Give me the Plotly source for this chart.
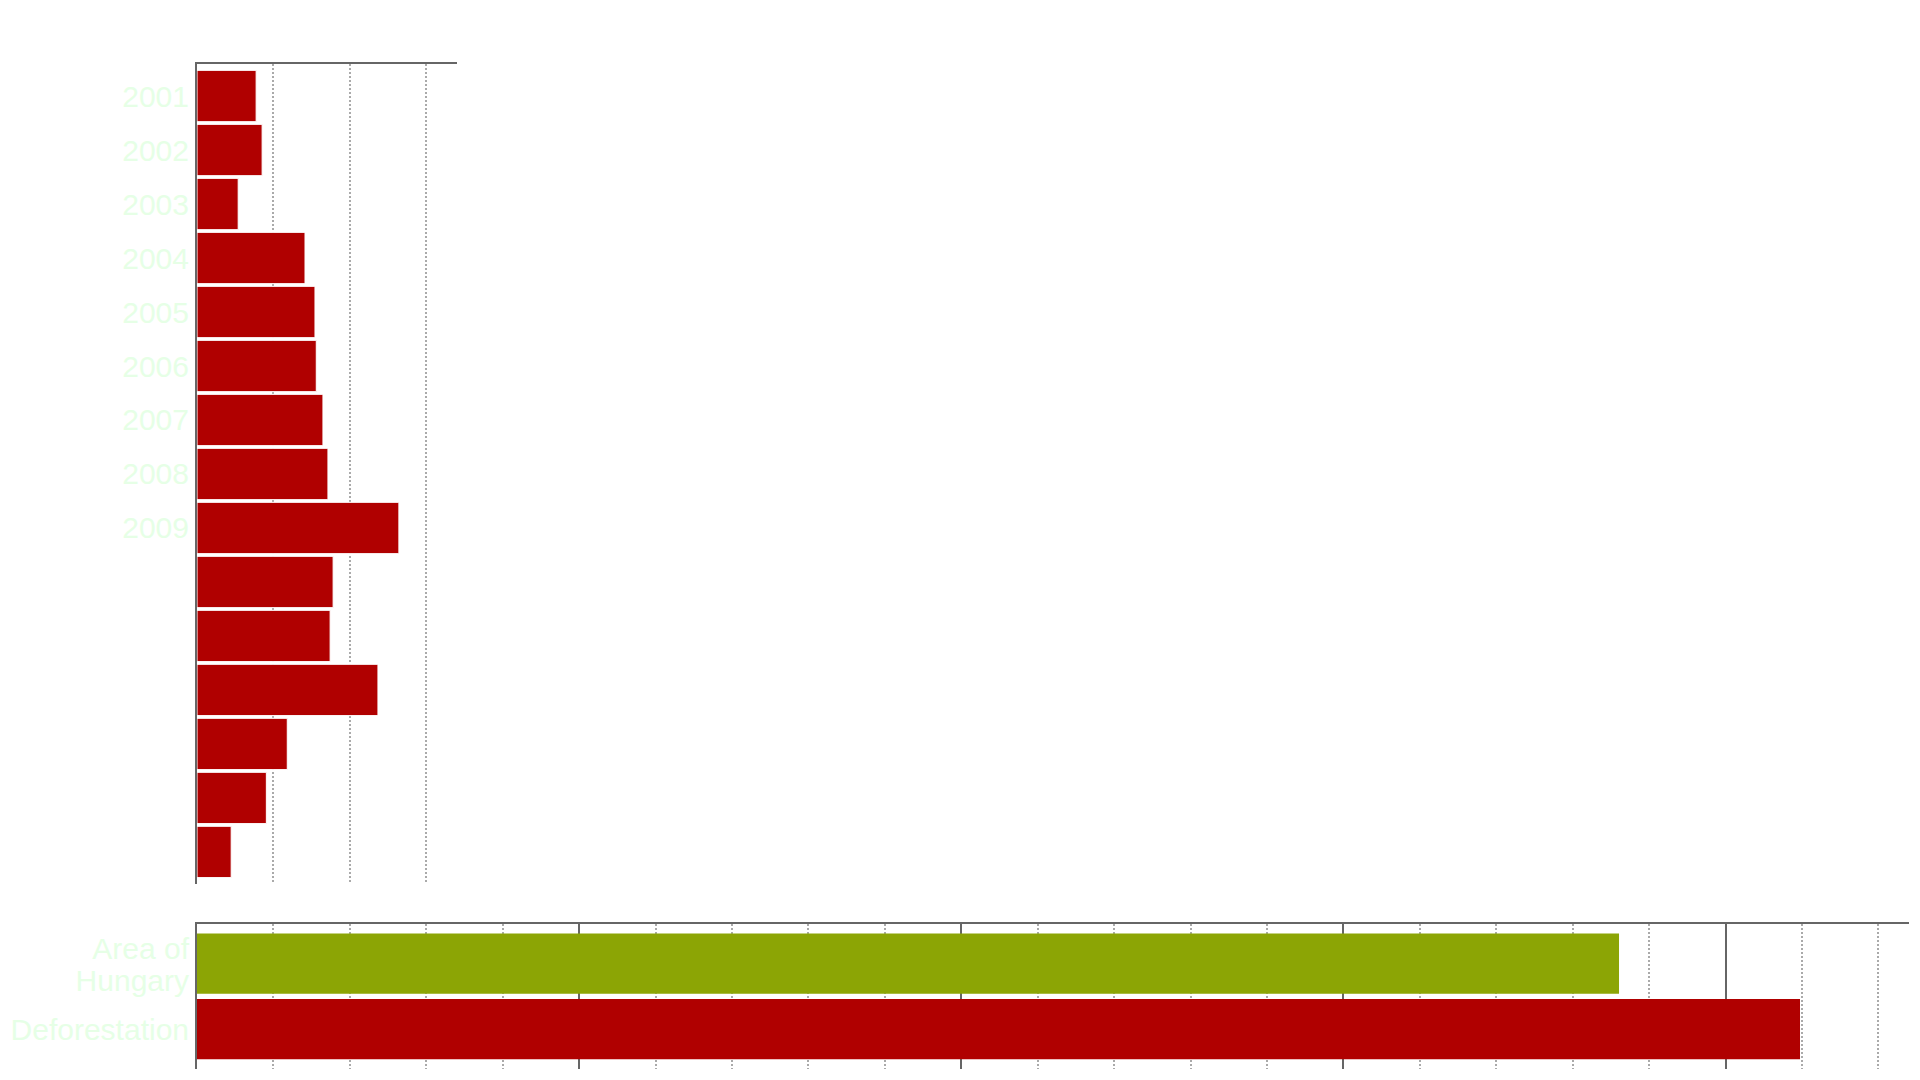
import plotly.graph_objects as go

# === データ（森林消失 km²/年） ===
years = ["2001", "2002", "2003", "2004", "2005", "2006", "2007", "2008",
         "2009", "2010", "2011", "2012", "2013", "2014", "2015"]
loss_km2 = [3869, 4260, 2694, 7066, 7718, 7803, 8240, 8566,
            13207, 8905, 8709, 11838, 5906, 4537, 2236]
labelled_years = years[:9]  # 元の図はラベルが2009まで

compare_labels = ["Area of Hungary", "Deforestation"]
compare_values = [93030, 104870]
compare_ticktext = ["Area of", "Hungary", "Deforestation"]

RED = "#b00000"
GREEN = "#8ca505"
AXIS = "#666666"
LABEL = "#e6ffe6"
FONT = "Arial, Liberation Sans, sans-serif"

fig = go.Figure()

# === 年ごとの棒 ===
fig.add_trace(go.Bar(
    y=years, x=loss_km2, orientation="h",
    marker=dict(color=RED, line=dict(color="white", width=1)),
    width=0.95, xaxis="x", yaxis="y",
))

# === ハンガリーの面積との比較（行間を詰めるため数値軸に配置） ===
fig.add_trace(go.Bar(
    y=list(range(len(compare_labels))), x=compare_values, orientation="h",
    marker=dict(color=[GREEN, RED], line=dict(width=0)),
    width=0.92, xaxis="x2", yaxis="y2",
    hovertext=compare_labels,
))

# 両方のx軸は同じスケール（5000刻みの点線、25000刻みの実線）
x_common = dict(
    side="top", showticklabels=False, ticks="",
    showline=True, linecolor=AXIS, linewidth=2,
    tick0=0, dtick=25000,
    showgrid=True, gridcolor=AXIS, gridwidth=2,
    zeroline=False,
    minor=dict(dtick=5000, showgrid=True, gridcolor="#aaaaaa",
               gridwidth=1.5, griddash="2px,2px", ticks=""),
)
y_common = dict(
    showline=True, linecolor=AXIS, linewidth=2,
    ticks="", showgrid=False, zeroline=False,
    tickfont=dict(family=FONT, size=30, color=LABEL),
)

# ページの余白(8px)を考慮して 1904x1064
fig.update_layout(
    width=1904, height=1064,
    margin=dict(l=185, r=3, t=56, b=3),
    paper_bgcolor="white", plot_bgcolor="white",
    showlegend=False,
    font=dict(family=FONT),
    xaxis=dict(x_common, anchor="y", domain=[0, 17000 / 112000], range=[0, 17000]),
    yaxis=dict(y_common, type="category", anchor="x", domain=[0.1841, 1],
               categoryorder="array", categoryarray=years,
               tickvals=labelled_years, range=[14.593, -0.593]),
    xaxis2=dict(x_common, anchor="y2", domain=[0, 1], range=[0, 112000]),
    yaxis2=dict(y_common, type="linear", anchor="x2", domain=[0, 0.1443],
                tickmode="array", tickvals=[-0.23, 0.25, 1],
                ticktext=compare_ticktext, range=[1.607, -0.607]),
)

fig.write_html("out.html")
